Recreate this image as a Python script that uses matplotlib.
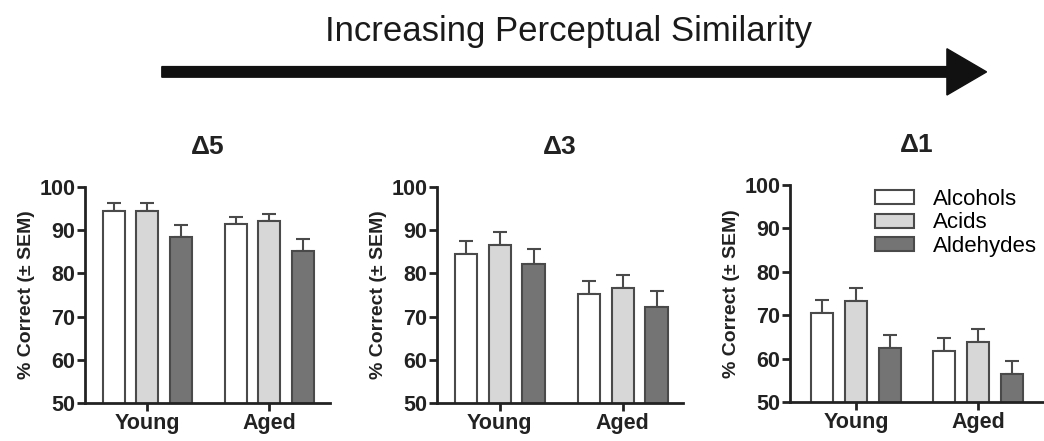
import numpy as np
import matplotlib.pyplot as plt
from matplotlib.patches import FancyArrow

groups = ["Young", "Aged"]
odorants = ["Alcohols", "Acids", "Aldehydes"]
panels = ["\u0394" + "5", "\u0394" + "3", "\u0394" + "1"]

# mean % correct per panel: rows = odorant class, cols = Young, Aged
mean_d5 = [[94.5, 91.3], [94.5, 92.2], [88.5, 85.2]]
mean_d3 = [[84.5, 75.3], [86.5, 76.5], [82.2, 72.3]]
mean_d1 = [[70.5, 61.8], [73.2, 63.9], [62.5, 56.5]]
# SEM
sem_d5 = [[1.7, 1.8], [1.7, 1.6], [2.6, 2.7]]
sem_d3 = [[3.0, 3.0], [3.1, 3.0], [3.5, 3.5]]
sem_d1 = [[3.0, 2.9], [3.1, 2.9], [2.9, 3.0]]

means = [mean_d5, mean_d3, mean_d1]
sems = [sem_d5, sem_d3, sem_d1]

fills = ["white", "#d7d7d7", "#747474"]
edge = "#4a4a4a"

plt.rcParams['font.family'] = ['Liberation Sans', 'DejaVu Sans']

fig = plt.figure(figsize=(10.44, 4.41), dpi=100)

# top arrow + headline
fig.text(0.545, 0.928, "Increasing Perceptual Similarity", ha="center", va="center",
         fontsize=25, color="#1a1a1a")
fig.patches.append(FancyArrow(0.155, 0.837, 0.79, 0, width=0.024, head_width=0.105,
                              head_length=0.038, length_includes_head=True,
                              color="#111111", transform=fig.transFigure, figure=fig))

axes_pos = [
    [0.0814, 0.0862, 0.2347, 0.490],
    [0.4186, 0.0862, 0.2356, 0.490],
    [0.7567, 0.0884, 0.2433, 0.492],
]
xlims = [(-0.51, 1.5), (-0.51, 1.49), (-0.54, 1.54)]

x = np.arange(len(groups))
offsets = [-0.275, 0, 0.275]
bw = 0.18

for k in range(3):
    ax = fig.add_axes(axes_pos[k])
    for i in range(3):
        ax.bar(x + offsets[i], means[k][i], bw, bottom=0, color=fills[i],
               edgecolor=edge, linewidth=1.5, label=odorants[i], zorder=2)
        ax.errorbar(x + offsets[i], means[k][i], yerr=[np.zeros(2), sems[k][i]],
                    fmt="none", ecolor=edge, elinewidth=1.5, capsize=5, capthick=1.5, zorder=1)
    ax.set_ylim(50, 100)
    ax.set_xlim(*xlims[k])
    ax.set_yticks([50, 60, 70, 80, 90, 100])
    ax.set_xticks(x)
    ax.set_xticklabels(groups)
    for s in ["top", "right"]:
        ax.spines[s].set_visible(False)
    for s in ["left", "bottom"]:
        ax.spines[s].set_linewidth(2)
        ax.spines[s].set_color("#222222")
    ax.tick_params(width=2, length=6, color="#222222", labelsize=15.5, pad=1)
    for lab in ax.get_xticklabels() + ax.get_yticklabels():
        lab.set_fontweight("bold")
        lab.set_color("#222222")
    ax.set_ylabel("% Correct (\u00b1 SEM)", fontsize=14, fontweight="bold",
                  color="#222222", labelpad=3)
    ax.set_title(panels[k], fontsize=19, fontweight="bold", pad=24, color="#222222")
    if k == 2:
        ax.legend(loc="upper right", bbox_to_anchor=(1.05, 1.075), frameon=False,
                  fontsize=16, handlelength=1.75, handleheight=0.6,
                  labelspacing=0.12, handletextpad=0.85)

fig.savefig("out.png", dpi=100)
